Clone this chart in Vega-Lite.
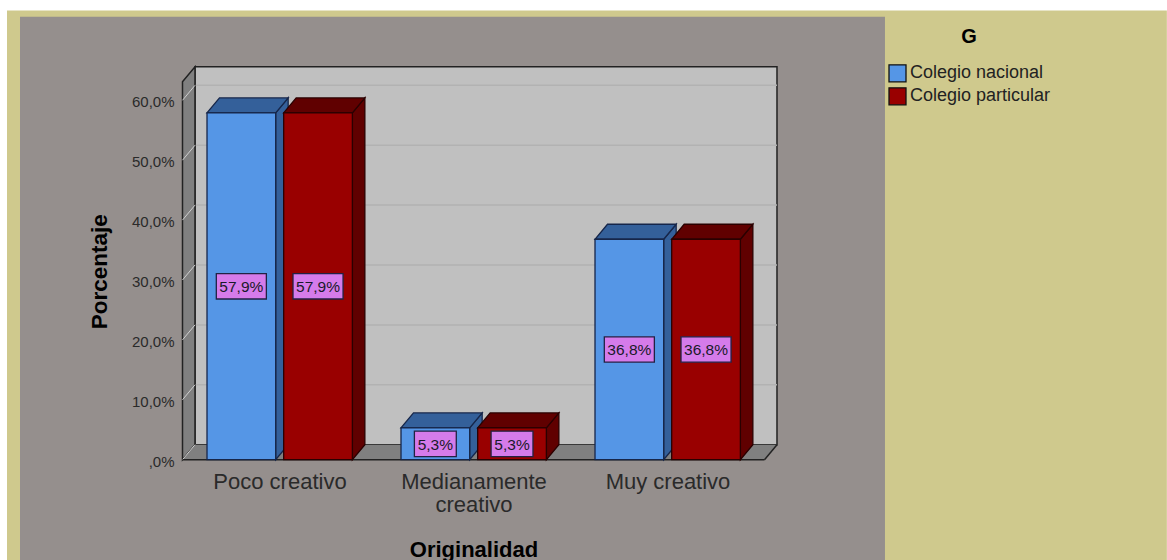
{
"$schema":"https://vega.github.io/schema/vega-lite/v6.json",
"width":582,"height":359.4,
"autosize":{"type":"none"},
"padding":{"left":182.5,"top":100.3,"right":402.5,"bottom":100.3},
"background":"#ffffff",
"view":{"stroke":null},
"config":{"font":"Liberation Sans","legend":{"orient":"none"}},
"datasets":{
"barras":[
{"categoria":"Poco creativo","colegio":"Colegio nacional","porcentaje":57.9},
{"categoria":"Poco creativo","colegio":"Colegio particular","porcentaje":57.9},
{"categoria":"Medianamente creativo","colegio":"Colegio nacional","porcentaje":5.3},
{"categoria":"Medianamente creativo","colegio":"Colegio particular","porcentaje":5.3},
{"categoria":"Muy creativo","colegio":"Colegio nacional","porcentaje":36.8},
{"categoria":"Muy creativo","colegio":"Colegio particular","porcentaje":36.8}
],
"marcas":[{"marca":10},{"marca":20},{"marca":30},{"marca":40},{"marca":50},{"marca":60}],
"marcas0":[{"marca":0},{"marca":10},{"marca":20},{"marca":30},{"marca":40},{"marca":50},{"marca":60}]
},
"layer":[
{"data":{"values":[{}]},"mark":{"type":"rect","fill":"#cfc98d"},
"encoding":{
"x":{"datum":-0.9046,"type":"quantitative","scale":{"domain":[0,3],"nice":false,"zero":false},
"axis":{"values":[0.5,1.5,2.5],"zindex":1,"domain":false,"ticks":false,"grid":false,"labelFontSize":22,"labelColor":"#2a2a2a","labelPadding":12,"labelLineHeight":23,"labelOverlap":false,"labelFlush":false,
"labelExpr":"datum.value<1?'Poco creativo':datum.value<2?['Medianamente','creativo']:'Muy creativo'",
"title":"Originalidad","titleFontSize":22,"titleFontWeight":"bold","titleColor":"#000000","titleX":291,"titleY":80}},
"x2":{"datum":5.074},
"y":{"datum":75,"type":"quantitative","scale":{"domain":[0,60],"nice":false,"zero":false},
"axis":{"values":[0,10,20,30,40,50,60],"zindex":1,"domain":false,"ticks":false,"grid":false,"labelFontSize":15,"labelColor":"#2a2a2a","labelPadding":8.5,"labelOffset":1.5,
"labelExpr":"datum.value==0?',0%':datum.value+',0%'",
"title":"Porcentaje","titleFontSize":22.5,"titleFontWeight":"bold","titleColor":"#000000","titleX":-71,"titleY":171}},
"y2":{"datum":-16.9}}},
{"data":{"values":[{}]},"mark":{"type":"rect","fill":"#958f8d"},
"encoding":{"x":{"datum":-0.8376,"type":"quantitative"},"x2":{"datum":3.621},"y":{"datum":73.96,"type":"quantitative"},"y2":{"datum":-16.9}}},
{"data":{"values":[{}]},"mark":{"type":"rect","fill":"#c0c0c0","stroke":"#222222","strokeWidth":1.5},
"encoding":{"x":{"datum":0.0644,"type":"quantitative"},"x2":{"datum":3.0644},"y":{"datum":65.6,"type":"quantitative"},"y2":{"datum":2.504}}},
{"data":{"name":"marcas"},"transform":[{"calculate":"datum.marca+2.504","as":"yg"}],"mark":{"type":"rule","color":"#b2b2b2","strokeWidth":1.5},
"encoding":{"x":{"datum":0.0644,"type":"quantitative"},"x2":{"datum":3.0644},"y":{"field":"yg","type":"quantitative"}}},
{"data":{"values":[{}]},"transform":[{"calculate":"[0,1]","as":"t"},{"flatten":["t"]},{"calculate":"datum.t*0.0644","as":"xw"},{"calculate":"datum.t*2.504","as":"y0"},{"calculate":"63.1+datum.t*2.504","as":"y1"}],
"mark":{"type":"area","fill":"#808080","stroke":"#222222","strokeWidth":1.5,"orient":"vertical"},
"encoding":{"x":{"field":"xw","type":"quantitative"},"y":{"field":"y1","type":"quantitative"},"y2":{"field":"y0"}}},
{"data":{"values":[{}]},"transform":[{"calculate":"[0,1]","as":"t"},{"flatten":["t"]},{"calculate":"datum.t*0.0644","as":"xa"},{"calculate":"3+datum.t*0.0644","as":"xb"},{"calculate":"datum.t*2.504","as":"yf"}],
"mark":{"type":"area","fill":"#808080","orient":"horizontal"},
"encoding":{"y":{"field":"yf","type":"quantitative"},"x":{"field":"xa","type":"quantitative"},"x2":{"field":"xb"}}},
{"data":{"name":"marcas0"},"transform":[{"calculate":"datum.marca+2.504","as":"yg"}],"mark":{"type":"rule","color":"#cfcfcf","strokeWidth":1},
"encoding":{"x":{"datum":0,"type":"quantitative"},"x2":{"datum":0.0644},"y":{"field":"marca","type":"quantitative"},"y2":{"field":"yg"}}},
{"data":{"values":[{}]},"mark":{"type":"rule","color":"#222222","strokeWidth":1.5},
"encoding":{"x":{"datum":0,"type":"quantitative"},"x2":{"datum":3},"y":{"datum":0,"type":"quantitative"}}},
{"data":{"values":[{}]},"mark":{"type":"rule","color":"#222222","strokeWidth":1.5},
"encoding":{"x":{"datum":3,"type":"quantitative"},"x2":{"datum":3.0644},"y":{"datum":0,"type":"quantitative"},"y2":{"datum":2.504}}},
{"data":{"name":"barras"},
"transform":[
{"calculate":"indexof(['Poco creativo','Medianamente creativo','Muy creativo'],datum.categoria)+(datum.colegio==='Colegio nacional'?0.1263:0.5216)","as":"x0"},
{"calculate":"datum.x0+0.354","as":"x1"},
{"calculate":"datum.categoria+datum.colegio","as":"id"},
{"calculate":"[0,1]","as":"t"},{"flatten":["t"]},
{"calculate":"datum.x1+datum.t*0.0644","as":"xs"},
{"calculate":"datum.t*2.504","as":"ys0"},
{"calculate":"datum.porcentaje+datum.t*2.504","as":"ys1"}],
"mark":{"type":"area","orient":"vertical","strokeWidth":1.3},
"encoding":{"detail":{"field":"id"},"x":{"field":"xs","type":"quantitative"},"y":{"field":"ys1","type":"quantitative"},"y2":{"field":"ys0"},
"fill":{"condition":{"test":"datum.colegio==='Colegio nacional'","value":"#34609a"},"value":"#600000"},
"stroke":{"condition":{"test":"datum.colegio==='Colegio nacional'","value":"#16264a"},"value":"#2a0000"}}},
{"data":{"name":"barras"},
"transform":[
{"calculate":"indexof(['Poco creativo','Medianamente creativo','Muy creativo'],datum.categoria)+(datum.colegio==='Colegio nacional'?0.1263:0.5216)","as":"x0"},
{"calculate":"datum.x0+0.354","as":"x1"},
{"calculate":"datum.categoria+datum.colegio","as":"id"},
{"calculate":"[0,1]","as":"t"},{"flatten":["t"]},
{"calculate":"datum.x0+datum.t*0.0644","as":"xa"},
{"calculate":"datum.x1+datum.t*0.0644","as":"xb"},
{"calculate":"datum.porcentaje+datum.t*2.504","as":"yt"}],
"mark":{"type":"area","orient":"horizontal","strokeWidth":1.3},
"encoding":{"detail":{"field":"id"},"y":{"field":"yt","type":"quantitative"},"x":{"field":"xa","type":"quantitative"},"x2":{"field":"xb"},
"fill":{"condition":{"test":"datum.colegio==='Colegio nacional'","value":"#34609a"},"value":"#600000"},
"stroke":{"condition":{"test":"datum.colegio==='Colegio nacional'","value":"#16264a"},"value":"#2a0000"}}},
{"data":{"name":"barras"},
"transform":[
{"calculate":"indexof(['Poco creativo','Medianamente creativo','Muy creativo'],datum.categoria)+(datum.colegio==='Colegio nacional'?0.1263:0.5216)","as":"x0"},
{"calculate":"datum.x0+0.354","as":"x1"}],
"mark":{"type":"rect","strokeWidth":1.3},
"encoding":{"x":{"field":"x0","type":"quantitative"},"x2":{"field":"x1"},"y":{"field":"porcentaje","type":"quantitative"},"y2":{"datum":0},
"color":{"field":"colegio","type":"nominal","scale":{"domain":["Colegio nacional","Colegio particular"],"range":["#5596e6","#990000"]},
"legend":{"title":"G","legendX":705.5,"legendY":-73,"titleFontSize":20,"titleFontWeight":"bold","titleColor":"#000000","titleAnchor":"middle","titlePadding":16.5,"labelFontSize":18,"labelColor":"#222222","labelOffset":3,"symbolType":"square","symbolSize":289,"symbolStrokeColor":"#111111","symbolStrokeWidth":1.3,"symbolOpacity":1,"rowPadding":0}},
"stroke":{"condition":{"test":"datum.colegio==='Colegio nacional'","value":"#16264a"},"value":"#2a0000"}}},
{"data":{"name":"barras"},
"transform":[
{"calculate":"indexof(['Poco creativo','Medianamente creativo','Muy creativo'],datum.categoria)+(datum.colegio==='Colegio nacional'?0.1263:0.5216)+0.177","as":"xc"},
{"calculate":"datum.porcentaje<10?0.108:0.129","as":"hw"},
{"calculate":"datum.xc-datum.hw","as":"xa"},
{"calculate":"datum.xc+datum.hw","as":"xb"},
{"calculate":"datum.porcentaje/2-2.12","as":"ya"},
{"calculate":"datum.porcentaje/2+2.12","as":"yb"}],
"mark":{"type":"rect","fill":"#d57bea","stroke":"#222244","strokeWidth":1.3},
"encoding":{"x":{"field":"xa","type":"quantitative"},"x2":{"field":"xb"},"y":{"field":"ya","type":"quantitative"},"y2":{"field":"yb"}}},
{"data":{"name":"barras"},
"transform":[
{"calculate":"indexof(['Poco creativo','Medianamente creativo','Muy creativo'],datum.categoria)+(datum.colegio==='Colegio nacional'?0.1263:0.5216)+0.177","as":"xc"},
{"calculate":"datum.porcentaje/2","as":"ym"},
{"calculate":"replace(format(datum.porcentaje,'.1f'),'.',',')+'%'","as":"etiqueta"}],
"mark":{"type":"text","fontSize":15.5,"color":"#1a1a2a","align":"center","baseline":"middle","dy":1},
"encoding":{"x":{"field":"xc","type":"quantitative"},"y":{"field":"ym","type":"quantitative"},"text":{"field":"etiqueta"}}}
]
}
